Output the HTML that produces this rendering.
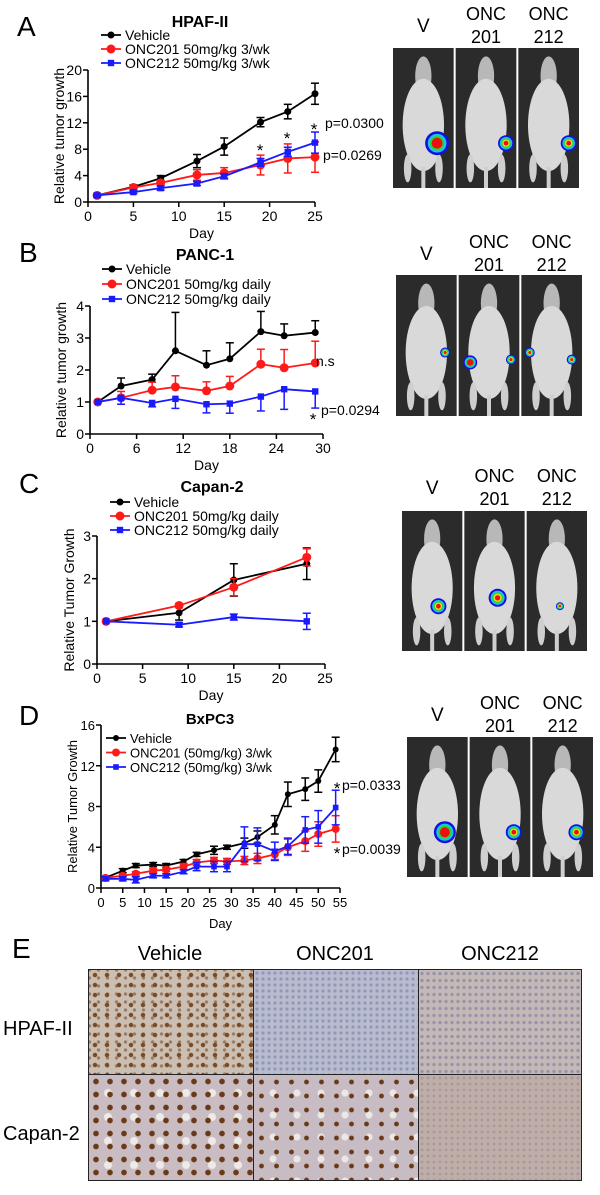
<!DOCTYPE html>
<html><head><meta charset="utf-8">
<style>
html,body{margin:0;padding:0;background:#fff;}
body{width:600px;height:1195px;position:relative;overflow:hidden;font-family:"Liberation Sans",Arial,sans-serif;}
svg{position:absolute;left:0;top:0;}
.tissue{position:absolute;}
</style></head>
<body>
<svg id="fig" width="600" height="1195" viewBox="0 0 600 1195"></svg>
<script>
// ---------- Panel A data (HPAF-II) ----------
const aDays=[1,5,8,12,15,19,22,25];
const aVeh=[1,2.3,3.6,6.2,8.4,12.1,13.7,16.4];
const aVehErr=[0.3,0.3,0.4,1.0,1.3,0.7,1.1,1.6];
const aO201=[1,2.2,2.9,4.1,4.4,5.6,6.6,6.8];
const aO201Err=[0.2,0.3,0.4,0.8,0.8,1.5,2.2,2.3];
const aO212=[1,1.5,2.1,2.8,3.9,6.0,7.6,9.0];
const aO212Err=[0.1,0.2,0.3,0.3,0.4,0.6,0.7,1.6];
const aXTicks=[0,5,10,15,20,25];
const aYTicks=[0,4,8,12,16,20];
// ---------- Panel B data (PANC-1) ----------
const bDays=[1,4,8,11,15,18,22,25,29];
const bVeh=[1,1.5,1.7,2.6,2.15,2.35,3.2,3.07,3.17];
const bVehErr=[0,0.25,0.17,1.2,0.45,0.5,0.63,0.37,0.37];
const bO201=[1,1.13,1.37,1.47,1.35,1.5,2.18,2.07,2.22];
const bO201Err=[0,0.2,0.25,0.35,0.28,0.3,0.47,0.57,0.68];
const bO212=[1,1.13,0.97,1.1,0.93,0.95,1.17,1.4,1.33];
const bO212Err=[0,0.2,0.12,0.3,0.27,0.3,0.45,0.63,0.52];
const bXTicks=[0,6,12,18,24,30];
const bYTicks=[0,1,2,3,4];
// ---------- Panel C data (Capan-2) ----------
const cDays=[1,9,15,23];
const cVeh=[1,1.2,1.97,2.35];
const cVehErr=[0,0.17,0.38,0.37];
const cO201=[1,1.37,1.8,2.5];
const cO201Err=[0,0.05,0.2,0.2];
const cO212=[1,0.92,1.1,1.0];
const cO212Err=[0,0.05,0.07,0.19];
const cXTicks=[0,5,10,15,20,25];
const cYTicks=[0,1,2,3];
// ---------- Panel D data (BxPC3) ----------
const dDays=[1,5,8,12,15,19,22,26,29,33,36,40,43,47,50,54];
const dVeh=[1,1.7,2.2,2.3,2.2,2.6,3.3,3.7,4.0,4.4,5.0,6.2,9.2,9.7,10.5,13.6];
const dVehErr=[0.2,0.2,0.2,0.2,0.2,0.2,0.2,0.4,0.2,0.5,0.6,0.9,1.2,1.1,1.1,1.2];
const dO201=[1,1.2,1.4,1.7,1.8,2.1,2.5,2.7,2.6,2.7,2.9,3.3,4.0,4.6,5.3,5.8];
const dO201Err=[0.2,0.1,0.2,0.2,0.2,0.3,0.3,0.3,0.3,0.4,0.5,0.5,0.8,1.0,1.2,1.3];
const dO212=[0.9,0.9,0.8,1.2,1.2,1.6,2.1,2.1,2.1,4.3,4.3,3.6,4.1,5.7,6.0,7.9];
const dO212Err=[0.2,0.2,0.3,0.2,0.2,0.2,0.4,0.5,0.5,1.7,1.6,0.9,0.8,1.3,1.6,1.7];
const dXTicks=[0,5,10,15,20,25,30,35,40,45,50,55];
const dYTicks=[0,4,8,12,16];

const NS='http://www.w3.org/2000/svg';
const svg=document.getElementById('fig');
function mk(tag,attrs,parent){const e=document.createElementNS(NS,tag);for(const k in attrs)e.setAttribute(k,attrs[k]);(parent||svg).appendChild(e);return e;}
function txt(x,y,s,size,opts,parent){opts=opts||{};const t=mk('text',{x:x,y:y,'font-size':size,'font-family':'"Liberation Sans",Arial,sans-serif',fill:'#000','text-anchor':opts.anchor||'start','font-weight':opts.bold?'bold':'normal'},parent);if(opts.rot)t.setAttribute('transform','rotate(-90 '+x+' '+y+')');if(opts.sx)t.setAttribute('textLength',opts.sx);t.textContent=s;return t;}

function chart(cfg){
  const g=mk('g',{});
  
  
  const xS=v=>cfg.x0+(v-cfg.xmin)*(cfg.x1-cfg.x0)/(cfg.xmax-cfg.xmin);
  const yS=v=>cfg.y0-(v)*(cfg.y0-cfg.y1)/(cfg.ymax);
  const ax=mk('path',{d:'M'+cfg.x0+' '+cfg.y1+' V'+cfg.y0+' H'+cfg.x1,stroke:'#000','stroke-width':1.6,fill:'none'},g);
  
  
  cfg.yTicks.forEach(v=>{const y=yS(v);mk('line',{x1:cfg.x0-5,x2:cfg.x0,y1:y,y2:y,stroke:'#000','stroke-width':1.5},g);
    const t=txt(cfg.x0-6,y+5,String(v),cfg.fs,{anchor:'end'},g);
    
    });
  cfg.xTicks.forEach(v=>{const x=xS(v);mk('line',{x1:x,x2:x,y1:cfg.y0,y2:cfg.y0+5,stroke:'#000','stroke-width':1.5},g);
    const t=txt(x,cfg.y0+19,String(v),cfg.fs,{anchor:'middle'},g);
    
    });
  const xt=txt((cfg.x0+cfg.x1)/2,cfg.dayY,'Day',cfg.fs,{anchor:'middle'},g);
  
  
  const yt=txt(cfg.ytX,(cfg.y0+cfg.y1)/2,cfg.ytitle,cfg.fs,{anchor:'middle',rot:true},g);
  
  
  cfg.series.forEach(s=>{
    const sg=mk('g',{},g);
    
    
    s.vals.forEach((v,i)=>{const e=s.err[i];if(!e)return;const x=xS(cfg.days[i]);
      const up=s.dir!=='down',dn=s.dir!=='up';
      const yA=up?yS(v+e):yS(v),yB=dn?yS(v-e):yS(v);
      mk('line',{x1:x,x2:x,y1:yA,y2:yB,stroke:s.color,'stroke-width':1.5},sg);
      if(up)mk('line',{x1:x-4,x2:x+4,y1:yA,y2:yA,stroke:s.color,'stroke-width':1.5},sg);
      if(dn)mk('line',{x1:x-4,x2:x+4,y1:yB,y2:yB,stroke:s.color,'stroke-width':1.5},sg);});
    const pts=s.vals.map((v,i)=>xS(cfg.days[i])+','+yS(v)).join(' ');
    const pl=mk('polyline',{points:pts,fill:'none',stroke:s.color,'stroke-width':cfg.lw},sg);
    
    
    s.vals.forEach((v,i)=>{const x=xS(cfg.days[i]),y=yS(v);let m;
      if(s.shape==='sq'){const h=s.size;m=mk('rect',{x:x-h,y:y-h,width:2*h,height:2*h,fill:s.color},sg);}
      else m=mk('circle',{cx:x,cy:y,r:s.size,fill:s.color},sg);
      
      });
  });
  cfg.legend.rows.forEach((r,i)=>{const y=cfg.legend.y+i*cfg.legend.dy;const lx=cfg.legend.x;
    const lg=mk('g',{},g);
    
    
    const s=cfg.series[i];
    mk('line',{x1:lx,x2:lx+20,y1:y,y2:y,stroke:s.color,'stroke-width':cfg.lw},lg);
    if(s.shape==='sq')mk('rect',{x:lx+10-s.size,y:y-s.size,width:2*s.size,height:2*s.size,fill:s.color},lg);
    else mk('circle',{cx:lx+10,cy:y,r:s.size,fill:s.color},lg);
    txt(lx+24,y+5,r,cfg.legend.fs,{sx:cfg.legend.w?cfg.legend.w[i]:null},lg);});
  const tt=txt(cfg.titleX,cfg.titleY,cfg.title,cfg.tfs||15,{anchor:'middle',bold:true},g);
  
  
  return {xS,yS,g};
}
const K='#000',R='#ff1a1a',B='#1a1aff';

chart({name:'chart-a-hpaf',x0:88,x1:315,xmin:0,xmax:25,y0:202,y1:70,ymax:20,days:aDays,xTicks:aXTicks,yTicks:aYTicks,fs:14,lw:1.8,
  dayY:238,ytX:64,ytitle:'Relative tumor growth',title:'HPAF-II',titleX:200,titleY:27,tfs:16,
  series:[{key:'vehicle',vals:aVeh,err:aVehErr,color:K,size:3.5},{key:'onc201',vals:aO201,err:aO201Err,color:R,size:4.5},{key:'onc212',vals:aO212,err:aO212Err,color:B,size:3.2,shape:'sq'}],
  legend:{x:101,y:35,dy:14,fs:14,rows:['Vehicle','ONC201 50mg/kg 3/wk','ONC212 50mg/kg 3/wk']}});
chart({name:'chart-b-panc1',x0:90,x1:323,xmin:0,xmax:30,y0:434,y1:306,ymax:4,days:bDays,xTicks:bXTicks,yTicks:bYTicks,fs:14,lw:1.8,
  dayY:470,ytX:66,ytitle:'Relative tumor growth',title:'PANC-1',titleX:205,titleY:260,tfs:16,
  series:[{key:'vehicle',vals:bVeh,err:bVehErr,color:K,size:3.5,dir:'up'},{key:'onc201',vals:bO201,err:bO201Err,color:R,size:4.5,dir:'up'},{key:'onc212',vals:bO212,err:bO212Err,color:B,size:3.2,shape:'sq',dir:'down'}],
  legend:{x:102,y:269,dy:15,fs:14,rows:[' Vehicle','ONC201 50mg/kg daily','ONC212 50mg/kg daily']}});
chart({name:'chart-c-capan2',x0:97,x1:325,xmin:0,xmax:25,y0:664,y1:536,ymax:3,days:cDays,xTicks:cXTicks,yTicks:cYTicks,fs:14,lw:1.8,
  dayY:700,ytX:74,ytitle:'Relative Tumor Growth',title:'Capan-2',titleX:212,titleY:492,tfs:16,
  series:[{key:'vehicle',vals:cVeh,err:cVehErr,color:K,size:3.5},{key:'onc201',vals:cO201,err:cO201Err,color:R,size:4.5},{key:'onc212',vals:cO212,err:cO212Err,color:B,size:3.2,shape:'sq'}],
  legend:{x:110,y:502,dy:14,fs:14,rows:['Vehicle','ONC201 50mg/kg daily','ONC212 50mg/kg daily']}});
chart({name:'chart-d-bxpc3',x0:101,x1:340,xmin:0,xmax:55,y0:888,y1:725,ymax:16,days:dDays,xTicks:dXTicks,yTicks:dYTicks,fs:13,lw:1.8,
  dayY:928,ytX:77,ytitle:'Relative Tumor Growth',title:'BxPC3',titleX:210,titleY:724,tfs:15,
  series:[{key:'vehicle',vals:dVeh,err:dVehErr,color:K,size:3},{key:'onc201',vals:dO201,err:dO201Err,color:R,size:4},{key:'onc212',vals:dO212,err:dO212Err,color:B,size:2.8,shape:'sq'}],
  legend:{x:106,y:738,dy:14.5,fs:13,w:[42,142,142],rows:['Vehicle','ONC201 (50mg/kg) 3/wk','ONC212 (50mg/kg) 3/wk']}});

// annotations
[['*',260,156,17,'middle'],['*',287,144,17,'middle'],['*',314,135,17,'middle'],['p=0.0300',325,128,14],['p=0.0269',323,160,14],
 ['n.s',316,366,14],['*',313,425,17,'middle'],['p=0.0294',321,415,14],
 ['*',337,794,17,'middle'],['p=0.0333',342,790,14],['*',337,859,17,'middle'],['p=0.0039',342,854,14]].forEach(a=>{
  const t=txt(a[1],a[2],a[0],a[3],{anchor:a[4]||'start'});
  
  });
[['A',17,36],['B',19,262],['C',19,493],['D',19,725],['E',12,958]].forEach(p=>{
  const t=txt(p[1],p[2],p[0],28);
  
  });

function mice(x0,x1,y0,y1,lab,spots){
  const w=(x1-x0)/3;const g=mk('g',{});
  
  
  const labs=[['V',null],['ONC','201'],['ONC','212']];
  for(let i=0;i<3;i++){const cx=x0+w*i+w/2;
    if(i===0)txt(cx,lab+8,'V',19,{anchor:'middle'},g);
    else{txt(cx,lab-4,'ONC',18,{anchor:'middle'},g);txt(cx,lab+19,labs[i][1],18,{anchor:'middle'},g);}
    const px=x0+w*i+1;
    const r=mk('rect',{x:px,y:y0,width:w-2,height:y1-y0,fill:'#2b2b2b'},g);
    
    
    const h=y1-y0;
    mk('ellipse',{cx:cx,cy:y0+h*0.2,rx:w*0.13,ry:h*0.14,fill:'#b8b8b8'},g);
    mk('ellipse',{cx:cx,cy:y0+h*0.55,rx:w*0.33,ry:h*0.33,fill:'#d9d9d9'},g);
    mk('ellipse',{cx:cx-w*0.25,cy:y0+h*0.86,rx:w*0.06,ry:h*0.1,fill:'#cfcfcf'},g);
    mk('ellipse',{cx:cx+w*0.25,cy:y0+h*0.86,rx:w*0.06,ry:h*0.1,fill:'#cfcfcf'},g);
    mk('rect',{x:cx-2,y:y0+h*0.85,width:4,height:h*0.15,fill:'#cfcfcf'},g);
    spots[i].forEach(s=>{const sx=x0+w*i+s[0]*w,sy=y0+s[1]*h,rr=s[2];
      mk('circle',{cx:sx,cy:sy,r:rr,fill:'#1010e0'},g);
      mk('circle',{cx:sx,cy:sy,r:rr*0.78,fill:'#19c8e0'},g);
      mk('circle',{cx:sx,cy:sy,r:rr*0.6,fill:'#30d030'},g);
      mk('circle',{cx:sx,cy:sy,r:rr*0.45,fill:s[3]||'#f0e020'},g);
      mk('circle',{cx:sx,cy:sy,r:rr*0.3,fill:'#ee1010'},g);});
  }
}
mice(392,580,48,188,24,[[[0.72,0.68,12,'#ee1010']],[[0.82,0.68,8]],[[0.82,0.68,8]]]);
mice(395,583,275,416,252,[[[0.8,0.55,5]],[[0.2,0.62,7,'#ee1010'],[0.85,0.6,5]],[[0.15,0.55,5],[0.82,0.6,5]]]);
mice(401,588,511,651,486,[[[0.6,0.68,8]],[[0.55,0.62,9]],[[0.55,0.68,4]]]);
mice(406,594,737,877,713,[[[0.62,0.68,11,'#ee1010']],[[0.72,0.68,8]],[[0.72,0.68,8]]]);

[['Vehicle',170],['ONC201',335],['ONC212',500]].forEach(h=>{const t=txt(h[1],960,h[0],20,{anchor:'middle'});
  
  });
[['HPAF-II',1035],['Capan-2',1140]].forEach(h=>{const t=txt(3,h[1],h[0],20);
  
  });
</script>
<div style="position:absolute;left:88px;top:969px;width:494px;height:212px;border:1px solid #222;box-sizing:border-box;">
 <div class="tissue" style="left:0;top:0;width:164px;height:104px;background:radial-gradient(circle,#7a4a22 0 1.8px,transparent 2.6px) 0 0/12px 10px,radial-gradient(circle,#9a7a60 0 1.3px,transparent 2px) 5px 4px/9px 8px,#cbbfb4;border-right:1px solid #222;border-bottom:1px solid #222;"></div>
 <div class="tissue" style="left:165px;top:0;width:164px;height:104px;background:radial-gradient(circle,#9097b8 0 1.2px,transparent 2px) 0 0/6px 6px,#b9bbcf;border-right:1px solid #222;border-bottom:1px solid #222;"></div>
 <div class="tissue" style="left:330px;top:0;width:162px;height:104px;background:radial-gradient(circle,#9890a8 0 1.2px,transparent 2px) 0 0/6px 7px,#c3b9b6;border-bottom:1px solid #222;"></div>
 <div class="tissue" style="left:0;top:105px;width:164px;height:105px;background:radial-gradient(circle,#6a3a18 0 2.4px,transparent 3.2px) 0 0/14px 13px,radial-gradient(circle,#eeeae8 0 3.5px,transparent 4.5px) 6px 6px/26px 24px,#c9bcc2;border-right:1px solid #222;"></div>
 <div class="tissue" style="left:165px;top:105px;width:164px;height:105px;background:radial-gradient(circle,#6a3a18 0 2px,transparent 2.8px) 0 0/15px 14px,radial-gradient(circle,#ece8e6 0 3px,transparent 4px) 7px 7px/24px 22px,#c7bcc4;border-right:1px solid #222;"></div>
 <div class="tissue" style="left:330px;top:105px;width:162px;height:105px;background:radial-gradient(circle,#a898a6 0 1.1px,transparent 1.8px) 0 0/6px 6px,#bfaea6;"></div>
</div>
</body></html>
